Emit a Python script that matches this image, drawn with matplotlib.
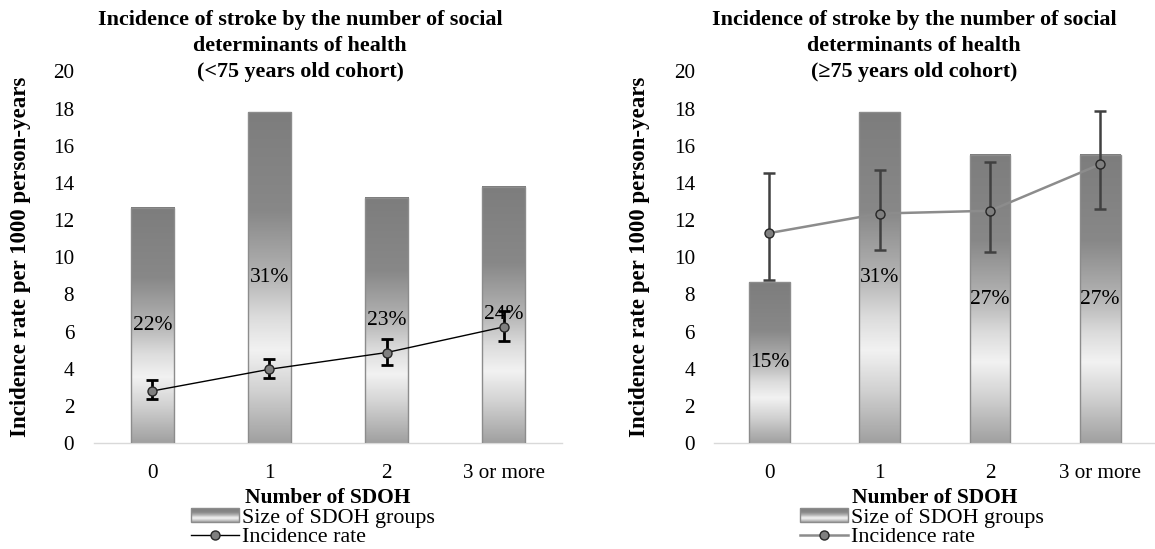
import matplotlib
matplotlib.use('Agg')
import matplotlib.pyplot as plt
import numpy as np
from matplotlib.colors import LinearSegmentedColormap
from matplotlib.legend_handler import HandlerBase
from matplotlib.patches import Rectangle
from matplotlib.lines import Line2D

plt.rcParams['font.family'] = ['Liberation Serif', 'DejaVu Serif']

categories = ['0', '1', '2', '3 or more']

# <75 years old cohort
young_size = [12.65, 17.8, 13.2, 13.8]
young_pct = ['22%', '31%', '23%', '24%']
young_rate = [2.8, 3.97, 4.87, 6.25]
young_lo = [2.35, 3.49, 4.2, 5.5]
young_hi = [3.4, 4.5, 5.59, 7.08]

# >=75 years old cohort
old_size = [8.65, 17.8, 15.5, 15.5]
old_pct = ['15%', '31%', '27%', '27%']
old_rate = [11.3, 12.35, 12.5, 15.0]
old_lo = [8.75, 10.4, 10.3, 12.6]
old_hi = [14.55, 14.68, 15.12, 17.88]

title_young = 'Incidence of stroke by the number of social\ndeterminants of health\n(<75 years old cohort)'
title_old = 'Incidence of stroke by the number of social\ndeterminants of health\n(\u226575 years old cohort)'

# 0 = top of bar, 1 = bottom
bar_cmap = LinearSegmentedColormap.from_list('bar', [
    (0.0, '#7d7d7d'), (0.3, '#888888'), (0.5, '#b4b4b4'), (0.62, '#dcdcdc'),
    (0.72, '#f2f2f2'), (0.84, '#d2d2d2'), (1.0, '#a0a0a0')])

FS = 15.5


class GradientHandler(HandlerBase):
    def create_artists(self, legend, orig_handle, xdescent, ydescent,
                       width, height, fontsize, trans):
        arts = []
        n = 14
        for i in range(n):
            c = bar_cmap((i + 0.5) / n)
            arts.append(Rectangle((-xdescent, -ydescent + height * (n - 1 - i) / n),
                                  width, height / n, facecolor=c,
                                  edgecolor='none', transform=trans))
        arts.append(Rectangle((-xdescent, -ydescent), width, height,
                              facecolor='none', edgecolor='#8c8c8c', lw=1,
                              transform=trans))
        return arts


def draw_panel(ax, sizes, pcts, rate, lo, hi, line_kw, err_kw):
    x = np.arange(len(categories))
    rate = np.array(rate)
    bars = ax.bar(x, sizes, width=0.37, facecolor='none', edgecolor='#8c8c8c',
                  linewidth=1, zorder=3)
    grad = np.linspace(0, 1, 256).reshape(-1, 1)
    for rect in bars:
        x0 = rect.get_x()
        ax.imshow(grad, cmap=bar_cmap, aspect='auto', origin='upper', zorder=2,
                  extent=[x0, x0 + rect.get_width(), 0, rect.get_height()])
    for xi, h, p in zip(x, sizes, pcts):
        ax.text(xi, h / 2, p, ha='center', va='center', fontsize=FS, zorder=4)

    ax.errorbar(x, rate, yerr=[rate - np.array(lo), np.array(hi) - rate],
                fmt='none', zorder=5, **err_kw)
    ax.plot(x, rate, marker='o', markersize=6.5, markerfacecolor='#7f7f7f',
            markeredgecolor='#262626', markeredgewidth=1, zorder=6, **line_kw)

    ax.set_xlim(-0.5, 3.5)
    ax.set_ylim(0, 20)
    ax.set_yticks(range(0, 21, 2))
    ax.set_xticks(x)
    ax.set_xticklabels(categories)
    for s in ['top', 'right', 'left']:
        ax.spines[s].set_visible(False)
    ax.spines['bottom'].set_color('#d9d9d9')
    ax.spines['bottom'].set_linewidth(1)
    ax.tick_params(length=0, labelsize=15.2)
    ax.tick_params(axis='y', pad=14)
    ax.tick_params(axis='x', pad=15)
    ax.set_ylabel('Incidence rate per 1000 person-years', fontsize=16.5,
                  fontweight='bold')
    ax.set_xlabel('Number of SDOH', fontsize=15.5, fontweight='bold', labelpad=3.5)

    proxy_bar = Rectangle((0, 0), 1, 1)
    proxy_line = Line2D([], [], marker='o', markersize=6.5,
                        markerfacecolor='#7f7f7f', markeredgecolor='#262626',
                        **line_kw)
    return proxy_bar, proxy_line


fig = plt.figure(figsize=(11.55, 5.49), dpi=100)
ax1 = fig.add_axes([0.0811, 0.193, 0.4058, 0.677])
ax2 = fig.add_axes([0.6185, 0.193, 0.3818, 0.677])

pb1, pl1 = draw_panel(ax1, young_size, young_pct, young_rate, young_lo, young_hi,
                      dict(color='#000000', linewidth=1.0),
                      dict(ecolor='#000000', elinewidth=2, capsize=4.5, capthick=2))
pb2, pl2 = draw_panel(ax2, old_size, old_pct, old_rate, old_lo, old_hi,
                      dict(color='#8c8c8c', linewidth=1.8),
                      dict(ecolor='#404040', elinewidth=1.8, capsize=4.5, capthick=1.8))

ax1.yaxis.set_label_coords(-0.133, 0.5)
ax2.yaxis.set_label_coords(-0.145, 0.5)

fig.text(300 / 1155, 0.982, title_young, ha='center', va='top', fontsize=15.8,
         fontweight='bold', linespacing=1.42)
fig.text(914 / 1155, 0.982, title_old, ha='center', va='top', fontsize=15.8,
         fontweight='bold', linespacing=1.42)

for ax, pb, pl, cx in [(ax1, pb1, pl1, 313), (ax2, pb2, pl2, 922)]:
    ax.legend([pb, pl], ['Size of SDOH groups', 'Incidence rate'],
              handler_map={pb: GradientHandler()},
              loc='center', bbox_to_anchor=(cx / 1155, 0.039),
              bbox_transform=fig.transFigure, frameon=False, fontsize=15.8,
              handlelength=2.15, handleheight=0.6, handletextpad=0.15,
              labelspacing=0.0, borderpad=0)

fig.savefig('out.png', dpi=100)
